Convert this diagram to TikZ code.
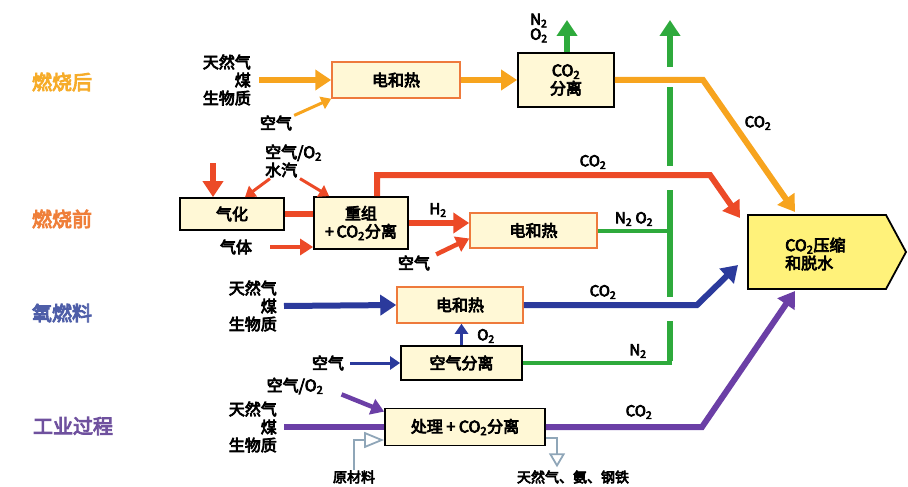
\documentclass[tikz,border=0pt]{standalone}
\usepackage{fontspec}
\setmainfont{Noto Sans CJK SC}[FakeBold=4.5]
\usetikzlibrary{arrows.meta}
\definecolor{cOra}{HTML}{F7A41E}
\definecolor{cRed}{HTML}{EC4A27}
\definecolor{cBlu}{HTML}{2B3A9C}
\definecolor{cPur}{HTML}{6B3FA6}
\definecolor{cGrn}{HTML}{2EAA3C}
\definecolor{cBoxF}{HTML}{FFF8D6}
\definecolor{cCompF}{HTML}{FFF27A}
\definecolor{cEBor}{HTML}{EE7A3C}
\definecolor{cGray}{HTML}{8FA6B8}
\definecolor{catA}{HTML}{F6AC2A}
\definecolor{catB}{HTML}{EF7F3A}
\definecolor{catC}{HTML}{4E5EA8}
\definecolor{catD}{HTML}{6F519E}
\begin{document}
\begin{tikzpicture}[x=1pt,y=-1pt,
  box/.style={draw=black,line width=1.8pt,fill=cBoxF,align=center,inner sep=0pt,font=\fontsize{16}{18}\selectfont},
  ebox/.style={box,draw=cEBor,line width=1.5pt},
  lab/.style={inner sep=0pt,font=\fontsize{16}{18}\selectfont},
  sm/.style={inner sep=0pt,font=\fontsize{15}{15}\selectfont},
  cat/.style={inner sep=0pt,font=\fontsize{20}{22}\selectfont},
  big/.style={line width=6pt,-{Triangle[length=16pt,width=20pt]}},
  mid/.style={line width=4.5pt,-{Triangle[length=13pt,width=16pt]}},
  bigline/.style={line width=6pt},
  small/.style={line width=3pt,-{Triangle[length=10pt,width=13pt]}},
]
\useasboundingbox (0,0) rectangle (908,487);

% category labels
\node[cat,text=catA] (k1) at (62,82) {燃烧后};
\node[cat,text=catB] (k2) at (62,219) {燃烧前};
\node[cat,text=catC] (k3) at (62,313) {氧燃料};
\node[cat,text=catD] (k4) at (73,426) {工业过程};

% boxes
\node[ebox,minimum width=128,minimum height=36] (e1) at (396,80) {电和热};
\node[box,minimum width=96,minimum height=54] (s1) at (566,80) {CO\textsubscript{2}\\分离};
\node[box,minimum width=104,minimum height=32] (gas) at (232,214) {气化};
\node[box,minimum width=94,minimum height=52] (ref) at (361,223) {重组\\+\,CO\textsubscript{2}分离};
\node[ebox,minimum width=127,minimum height=35] (e2) at (533.5,230.5) {电和热};
\node[ebox,minimum width=126,minimum height=36] (e3) at (460,305) {电和热};
\node[box,minimum width=121,minimum height=34] (asu) at (461.5,363) {空气分离};
\node[box,minimum width=160,minimum height=37] (proc) at (465,427) {处理 + CO\textsubscript{2}分离};
\draw[line width=1.8pt,fill=cCompF] (748,215) -- (886,215) -- (906,252) -- (886,289) -- (748,289) -- cycle;
\node[lab,align=left,anchor=west] (cmp) at (785,254) {CO\textsubscript{2}压缩\\和脱水};

% input labels
\node[lab,align=right,anchor=east] (f1) at (251,80) {天然气\\煤\\生物质};
\node[lab] (a1) at (276,123) {空气};
\node[lab,align=left,anchor=west] (w1) at (265,161) {空气/O\textsubscript{2}\\水汽};
\node[lab] (g2) at (236,247) {气体};
\node[lab] (a2) at (414,263) {空气};
\node[lab,align=right,anchor=east] (f3) at (277,306) {天然气\\煤\\生物质};
\node[lab] (a3) at (328,363) {空气};
\node[lab] (w4) at (295,386) {空气/O\textsubscript{2}};
\node[lab,align=right,anchor=east] (f4) at (277,427) {天然气\\煤\\生物质};
\node[lab,font=\fontsize{14}{16}\selectfont] (rm) at (354,477) {原材料};
\node[lab,font=\fontsize{14}{16}\selectfont] (out) at (573,477) {天然气、氨、钢铁};

% small labels
\node[sm,align=left,anchor=west] (no1) at (530,28) {N\textsubscript{2}\\O\textsubscript{2}};
\node[sm] (c1) at (758,123) {CO\textsubscript{2}};
\node[sm] (c2) at (593,162) {CO\textsubscript{2}};
\node[sm] (h2) at (438,210) {H\textsubscript{2}};
\node[sm] (no2) at (634,219) {N\textsubscript{2} O\textsubscript{2}};
\node[sm] (c3) at (603,292) {CO\textsubscript{2}};
\node[sm] (o2) at (486,336) {O\textsubscript{2}};
\node[sm] (n2) at (638,351) {N\textsubscript{2}};
\node[sm] (c4) at (639,412) {CO\textsubscript{2}};

% coordinates
\coordinate (g1) at (567,20);
\coordinate (gtop) at (670,20);
\coordinate (gbot) at (670,363);
\coordinate (t1) at (795,212);
\coordinate (t2) at (740,218);
\coordinate (t3) at (738,265);
\coordinate (t4) at (795,291);
\coordinate (d1) at (213,163);

% green streams
\draw[big,cGrn] (s1.north -| g1) -- (g1);
\draw[cGrn,line width=4pt] (asu.east) -- ([xshift=2pt]gbot);
\draw[cGrn,line width=4pt] (e2.east) -- (e2.east -| gtop);
\draw[big,cGrn] ([yshift=2pt]gbot) -- (gtop);
\fill[white] (662,67) rectangle (678,87);
\fill[white] (662,166) rectangle (678,190);
\fill[white] (662,297) rectangle (678,321);

% post-combustion
\draw[big,cOra] ([xshift=8pt]f1.east) -- (e1.west);
\draw[small,cOra] ([xshift=2pt]a1.north east) -- (e1.south west);
\draw[big,cOra] (e1.east) -- (s1.west);
\draw[big,cOra] (s1.east) -- (703,80) -- (t1);

% pre-combustion
\draw[big,cRed] (d1) -- (d1 |- gas.north);
\draw[small,cRed] ([xshift=5pt,yshift=-1pt]w1.south west) -- ([xshift=13pt]gas.north);
\draw[small,cRed] ([xshift=35pt,yshift=-1pt]w1.south west) -- ([xshift=16pt]ref.north west);
\draw[bigline,cRed] (gas.east) -- (ref.west |- gas.east);
\draw[mid,cRed] ([xshift=18pt]g2.east) -- (ref.west |- g2.east);
\draw[big,cRed] ([xshift=16pt]ref.north) |- (710,175) -- (t2);
\draw[big,cRed] (ref.east) -- (e2.west |- ref.east);
\draw[mid,cRed] ([xshift=6pt,yshift=1pt]a2.north east) -- ([yshift=-8pt]e2.west);

% oxy-fuel
\draw[big,cBlu] ([xshift=7pt]f3.east) -- (e3.west);
\draw[big,cBlu] (e3.east) -- (697,305) -- (t3);
\draw[small,cBlu] ([xshift=6pt]a3.east) -- (asu.west);
\draw[small,cBlu] (asu.north) -- (asu.north |- e3.south);

% industrial
\draw[mid,cPur] ([xshift=18pt]w4.south east) -- ([yshift=-4pt]proc.north west);
\draw[bigline,cPur] ([xshift=7pt]f4.east) -- (proc.west);
\draw[big,cPur] (proc.east) -- (702,427) -- (t4);
\draw[cGray,line width=1.8pt,-{Triangle[open,length=20pt,width=16pt]}] (rm.north) |- ([yshift=-13pt]proc.west);
\draw[cGray,line width=1.8pt,-{Triangle[open,length=14pt,width=16pt]}] ([yshift=-11pt]proc.east) -| ([xshift=-16pt,yshift=3pt]out.north);
\end{tikzpicture}
\end{document}
